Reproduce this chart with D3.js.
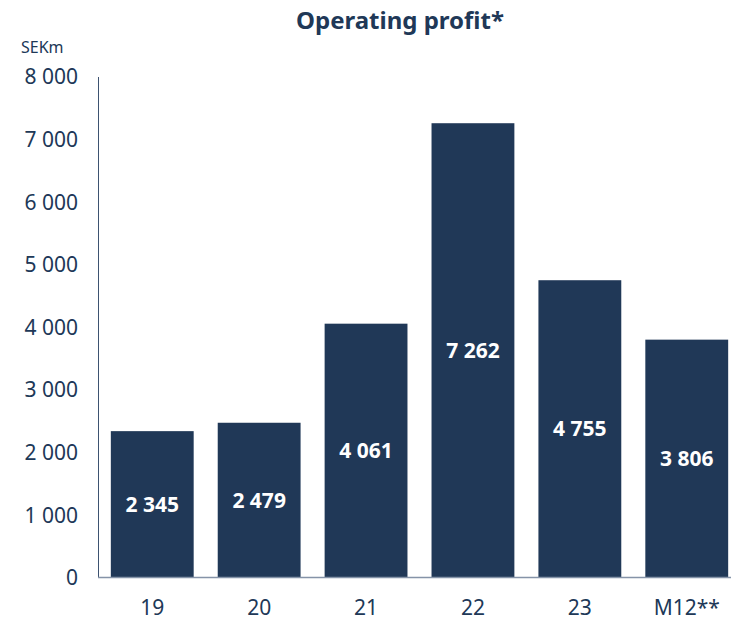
<!DOCTYPE html>
<html>
<head>
<meta charset="utf-8">
<script src="https://cdn.jsdelivr.net/npm/d3@7"></script>
<style>
  body { margin: 0; background: #fff; }
  svg text { font-family: "Noto Sans", "Open Sans", sans-serif; }
</style>
</head>
<body>
<svg id="chart" width="731" height="620"></svg>
<script>
// data
var categories = ["19", "20", "21", "22", "23", "M12**"];
var values = [2345, 2479, 4061, 7262, 4755, 3806];
var valueLabels = ["2 345", "2 479", "4 061", "7 262", "4 755", "3 806"];
var yTicks = [0, 1000, 2000, 3000, 4000, 5000, 6000, 7000, 8000];

var navy = "#203857";

var svg = d3.select("#chart");

var x = d3.scaleBand()
    .domain(categories)
    .range([98, 741])
    .paddingInner(0.225)
    .paddingOuter(0.12);

var y = d3.scaleLinear()
    .domain([0, 8000])
    .range([578, 77]);

// title
svg.append("text")
    .attr("x", 400)
    .attr("y", 29)
    .attr("text-anchor", "middle")
    .style("font-size", "24px")
    .style("font-weight", "bold")
    .style("fill", navy)
    .text("Operating profit*");

svg.append("text")
    .attr("x", 21)
    .attr("y", 53)
    .style("font-size", "16px")
    .style("fill", navy)
    .text("SEKm");

// y tick labels, no tick marks
var fmt = function (d) { return d3.format(",")(d).replace(/,/g, " "); };
svg.append("g")
    .selectAll("text")
    .data(yTicks)
    .enter().append("text")
    .attr("x", 78)
    .attr("y", function (d) { return y(d); })
    .attr("dy", "0.35em")
    .attr("text-anchor", "end")
    .style("font-size", "21px")
    .style("fill", navy)
    .text(fmt);

// bars
svg.append("g")
    .selectAll("rect")
    .data(values)
    .enter().append("rect")
    .attr("x", function (d, i) { return x(categories[i]); })
    .attr("y", function (d) { return y(d); })
    .attr("width", x.bandwidth())
    .attr("height", function (d) { return y(0) - y(d); })
    .style("fill", navy);

// value labels, centred in bar
svg.append("g")
    .selectAll("text")
    .data(values)
    .enter().append("text")
    .attr("x", function (d, i) { return x(categories[i]) + x.bandwidth() / 2; })
    .attr("y", function (d) { return (y(d) + y(0)) / 2; })
    .attr("dy", "0.35em")
    .attr("text-anchor", "middle")
    .style("font-size", "21px")
    .style("font-weight", "bold")
    .style("fill", "#fff")
    .text(function (d, i) { return valueLabels[i]; });

// axes lines
svg.append("line")
    .attr("x1", 98.5).attr("x2", 98.5)
    .attr("y1", 77).attr("y2", 578)
    .attr("stroke", "#3d5270")
    .attr("stroke-width", 1);

svg.append("line")
    .attr("x1", 98).attr("x2", 741)
    .attr("y1", 577.5).attr("y2", 577.5)
    .attr("stroke", "#8593a8")
    .attr("stroke-width", 1.5);

// category labels
svg.append("g")
    .selectAll("text")
    .data(categories)
    .enter().append("text")
    .attr("x", function (d) { return x(d) + x.bandwidth() / 2; })
    .attr("y", 608)
    .attr("dy", "0.35em")
    .attr("text-anchor", "middle")
    .style("font-size", "21px")
    .style("fill", navy)
    .text(function (d) { return d; });
</script>
</body>
</html>
